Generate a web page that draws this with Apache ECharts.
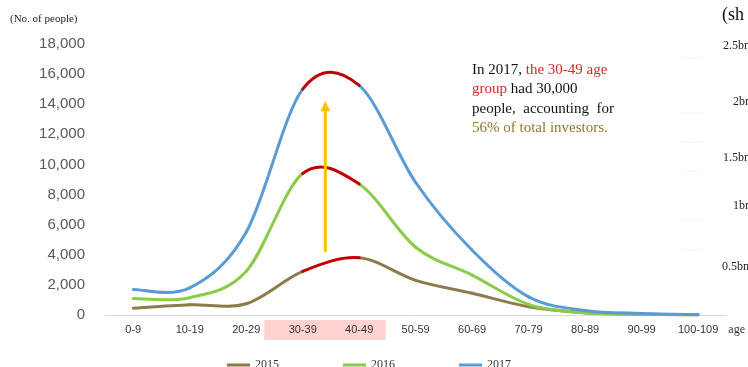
<!DOCTYPE html>
<html><head><meta charset="utf-8">
<script src="https://cdn.jsdelivr.net/npm/echarts@6/dist/echarts.min.js"></script>
<style>html,body{margin:0;padding:0;background:#fff;overflow:hidden}#c{width:748px;height:367px}</style>
</head><body><div id="c"></div>
<script>
const categories = ['0-9','10-19','20-29','30-39','40-49','50-59','60-69','70-79','80-89','90-99','100-109'];
const values2015 = [450, 680, 750, 2900, 3800, 2300, 1450, 550, 150, 50, 10];
const values2016 = [1100, 1150, 2900, 9400, 8700, 4500, 2650, 700, 150, 50, 10];
const values2017 = [1700, 1800, 5500, 15000, 15250, 8800, 4300, 1200, 300, 100, 30];
const seriesNames = ['2015', '2016', '2017'];
const yTicks = { min: 0, max: 18000, interval: 2000 };
const rightLabels = ['2.5bn', '2bn', '1.5bn', '1bn', '0.5bn'];
const highlightFrom = 3, highlightTo = 4; // 30-39 .. 40-49

const colors = ['#8C7B4B', '#8BCB4A', '#5B9BD5'];
const red = '#C00000';
const serif = '"Liberation Serif", "DejaVu Serif", serif';
const sans = '"Liberation Sans", Arial, sans-serif';

const chart = echarts.init(document.getElementById('c'), null, { renderer: 'canvas' });
const dataSets = [values2015, values2016, values2017];

// Excel-like smoothed line: each data item draws the bezier segment to the next point
function makeRender(arr, color) {
  return function (params, api) {
    const i = params.dataIndex;
    const n = arr.length;
    if (i >= n - 1) return null;
    const P = j => api.coord([Math.max(0, Math.min(n - 1, j)), arr[Math.max(0, Math.min(n - 1, j))]]);
    const p0 = P(i - 1), p1 = P(i), p2 = P(i + 1), p3 = P(i + 2);
    const k = 1 / 6;
    const t1 = [(p2[0] - p0[0]) * k, (p2[1] - p0[1]) * k];
    const t2 = [(p3[0] - p1[0]) * k, (p3[1] - p1[1]) * k];
    const isRed = i >= highlightFrom && i < highlightTo;
    return {
      type: 'bezierCurve',
      shape: { x1: p1[0], y1: p1[1], x2: p2[0], y2: p2[1],
        cpx1: p1[0] + t1[0], cpy1: p1[1] + t1[1], cpx2: p2[0] - t2[0], cpy2: p2[1] - t2[1] },
      style: { stroke: isRed ? red : color, lineWidth: 3, fill: null, lineCap: 'round' },
      z2: isRed ? 2 : 1
    };
  };
}

chart.setOption({
  animation: false,
  backgroundColor: '#fff',
  grid: { left: 105, right: 20, top: 44, bottom: 52 },
  legend: {
    left: 222, top: 354, itemWidth: 23, itemHeight: 3, itemGap: 64, icon: 'rect',
    textStyle: { fontFamily: serif, fontSize: 12, color: '#333' },
    data: seriesNames.map((n, i) => ({ name: n, itemStyle: { color: colors[i] } }))
  },
  xAxis: {
    type: 'category', data: categories, boundaryGap: true,
    name: 'age', nameLocation: 'end', nameGap: 2,
    nameTextStyle: { fontFamily: serif, fontSize: 12, color: '#333', verticalAlign: 'top', padding: [9, 0, 0, 0] },
    axisLine: { lineStyle: { color: '#D9D9D9', width: 1 } },
    axisTick: { show: false },
    axisLabel: { fontFamily: sans, fontSize: 11, color: '#333', margin: 9, interval: 0 }
  },
  yAxis: {
    type: 'value', min: yTicks.min, max: yTicks.max, interval: yTicks.interval,
    splitLine: { show: false }, axisLine: { show: false }, axisTick: { show: false },
    axisLabel: { fontFamily: sans, fontSize: 15, color: '#595959', margin: 20,
      formatter: v => v.toLocaleString('en-US') }
  },
  series: dataSets.map((d, i) => ({
    name: seriesNames[i], type: 'custom', coordinateSystem: 'cartesian2d',
    data: d.map((v, j) => [j, v]), encode: { x: 0, y: 1 },
    renderItem: makeRender(d, colors[i]),
    itemStyle: { color: colors[i] }, z: 3 + i, clip: false, silent: true
  }))
});

function build() {
  const p3 = chart.convertToPixel({ gridIndex: 0 }, [highlightFrom, 0]);
  const p4 = chart.convertToPixel({ gridIndex: 0 }, [highlightTo, 0]);
  const band = p4[0] - p3[0];
  const ax = p3[0] + 0.4 * band;
  const yBot = chart.convertToPixel({ gridIndex: 0 }, [3, 4200])[1];
  const yTop = chart.convertToPixel({ gridIndex: 0 }, [3, 14200])[1];
  const els = [
    { type: 'rect', shape: { x: p3[0] - 0.68 * band, y: p3[1] + 5, width: 2.15 * band, height: 20 },
      style: { fill: '#FFD2D2' }, z: -1, silent: true },
    { type: 'line', shape: { x1: ax, y1: yBot, x2: ax, y2: yTop + 8 },
      style: { stroke: '#FFC000', lineWidth: 3 }, z: 10 },
    { type: 'polygon', shape: { points: [[ax, yTop], [ax - 5, yTop + 10], [ax + 5, yTop + 10]] },
      style: { fill: '#FFC000' }, z: 10 },
    { type: 'text', left: 10, top: 14, style: { text: '(No. of people)', font: '11px ' + serif, fill: '#222' } },
    { type: 'text', left: 472, top: 60, z: 20, style: {
      text: 'In 2017, {r|the 30-49 age}\n{r|group} had 30,000\npeople,  accounting  for\n{g|56% of total investors.}',
      font: '15px ' + serif, fill: '#111', lineHeight: 19.5,
      rich: { r: { fill: '#D02A2A', font: '15px ' + serif, lineHeight: 19.5 },
              g: { fill: '#8F7630', font: '15px ' + serif, lineHeight: 19.5 } }
    } },
    { type: 'text', left: 722, top: 6, style: { text: '(sh', font: '18px ' + serif, fill: '#111' } }
  ];
  const rl = [[723, 40], [733, 96], [723, 152], [733, 200], [722, 261]];
  rightLabels.forEach((t, i) => {
    els.push({ type: 'text', left: rl[i][0], top: rl[i][1], style: { text: t, font: '12px ' + serif, fill: '#222' } });
  });
  [58, 113, 142, 171, 220, 250].forEach(y => {
    els.push({ type: 'line', shape: { x1: 682, y1: y, x2: 702, y2: y }, style: { stroke: '#F2F2F2', lineWidth: 1 } });
  });
  chart.setOption({ graphic: els });
}
build();
</script>
</body></html>
